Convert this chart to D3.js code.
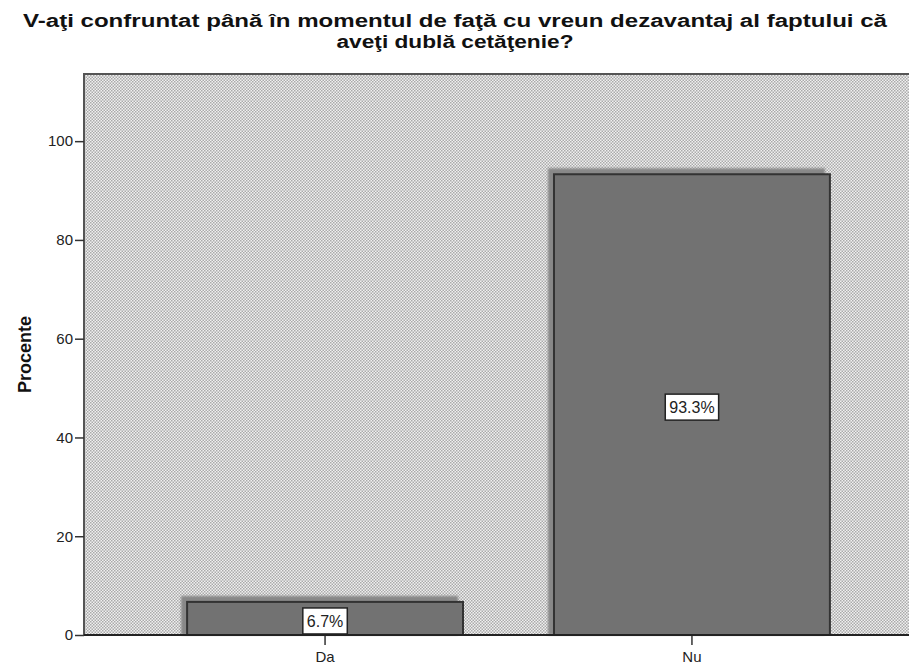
<!DOCTYPE html>
<html>
<head>
<meta charset="utf-8">
<script src="https://cdn.jsdelivr.net/npm/d3@7"></script>
<style>
  body { margin: 0; background: white; }
  svg { display: block; font-family: "Liberation Sans", Arial, sans-serif; }
</style>
</head>
<body>
<div id="chart"></div>
<script>
// data
const categories = ["Da", "Nu"];
const percents = [6.7, 93.3];
const yTicks = [0, 20, 40, 60, 80, 100];
const titleLines = ["V-aţi confruntat până în momentul de faţă cu vreun dezavantaj al faptului că", "aveţi dublă cetăţenie?"];

const width = 909, height = 666;
const plot = { left: 84, top: 74, right: 933, bottom: 635 };
const font = "Liberation Sans, Arial, sans-serif";

const svg = d3.select("#chart").append("svg")
    .attr("width", width).attr("height", height);

const defs = svg.append("defs");

// fine checker fill like the SPSS plot background
const pat = defs.append("pattern").attr("id", "dots")
    .attr("width", 3).attr("height", 3).attr("patternUnits", "userSpaceOnUse");
pat.append("rect").attr("width", 3).attr("height", 3).attr("fill", "#f0f0f0");
pat.append("rect").attr("width", 1.5).attr("height", 1.5).attr("fill", "#aaaaaa");
pat.append("rect").attr("x", 1.5).attr("y", 1.5).attr("width", 1.5).attr("height", 1.5).attr("fill", "#aaaaaa");

defs.append("filter").attr("id", "blur")
    .append("feGaussianBlur").attr("stdDeviation", 1);

const x = d3.scaleBand().domain(categories)
    .range([plot.left, plot.right]).paddingInner(0.248).paddingOuter(0.281);
const y = d3.scaleLinear().domain([0, 113.6]).range([plot.bottom, plot.top]);

// background
svg.append("rect")
    .attr("x", plot.left).attr("y", plot.top)
    .attr("width", plot.right - plot.left).attr("height", plot.bottom - plot.top)
    .attr("fill", "url(#dots)").attr("stroke", "#555").attr("stroke-width", 2);

const data = categories.map((c, i) => ({ cat: c, val: percents[i] }));

// drop shadows (offset up-left)
svg.append("g").selectAll("rect").data(data).enter().append("rect")
    .attr("x", d => x(d.cat) - 6).attr("y", d => y(d.val) - 6)
    .attr("width", x.bandwidth() + 1).attr("height", d => plot.bottom - y(d.val) + 6)
    .attr("fill", "#888").attr("filter", "url(#blur)");

// bars
svg.append("g").selectAll("rect").data(data).enter().append("rect")
    .attr("x", d => x(d.cat)).attr("y", d => y(d.val))
    .attr("width", x.bandwidth()).attr("height", d => plot.bottom - y(d.val))
    .attr("fill", "#727272").attr("stroke", "#333").attr("stroke-width", 2);

// y axis
const yAxis = svg.append("g").attr("transform", `translate(${plot.left},0)`)
    .call(d3.axisLeft(y).tickValues(yTicks).tickSize(9).tickPadding(2).tickFormat(d3.format("d")));
yAxis.select(".domain").remove();
yAxis.selectAll("line").attr("stroke", "#333").attr("stroke-width", 1.5);
yAxis.selectAll("text").attr("font-size", 15).attr("fill", "#222").attr("font-family", font);

// x axis
const xAxis = svg.append("g").attr("transform", `translate(0,${plot.bottom})`)
    .call(d3.axisBottom(x).tickSize(10).tickPadding(6));
xAxis.select(".domain").remove();
xAxis.selectAll("line").attr("stroke", "#333").attr("stroke-width", 1.5);
xAxis.selectAll("text").attr("font-size", 15).attr("fill", "#222").attr("font-family", font);

// bottom axis line
svg.append("line")
    .attr("x1", plot.left).attr("x2", width)
    .attr("y1", plot.bottom).attr("y2", plot.bottom)
    .attr("stroke", "#222").attr("stroke-width", 2);

// value labels
const lab = svg.append("g").selectAll("g").data(data).enter().append("g")
    .attr("transform", d => `translate(${x(d.cat) + x.bandwidth() / 2},${(y(d.val) + plot.bottom) / 2 + 2.5})`);
const box = lab.append("rect").attr("fill", "white").attr("stroke", "#222").attr("stroke-width", 1.5);
const txt = lab.append("text")
    .attr("text-anchor", "middle").attr("dy", "0.35em")
    .attr("font-size", 16).attr("fill", "#222")
    .text(d => d.val.toFixed(1) + "%");
txt.each(function(d, i) {
    const w = this.getComputedTextLength() + 8;
    d3.select(box.nodes()[i])
        .attr("x", -w / 2).attr("y", -13).attr("width", w).attr("height", 26);
});

// y title
svg.append("text")
    .attr("transform", `translate(31,${(plot.top + plot.bottom) / 2}) rotate(-90)`)
    .attr("text-anchor", "middle").attr("font-size", 18).attr("font-weight", "bold")
    .attr("fill", "#111").text("Procente");

// chart title
const titleWidths = [864, 237];
svg.append("g").selectAll("text").data(titleLines).enter().append("text")
    .attr("x", 455).attr("y", (d, i) => 27 + i * 21)
    .attr("text-anchor", "middle").attr("font-size", 18).attr("font-weight", "bold")
    .attr("textLength", (d, i) => titleWidths[i]).attr("lengthAdjust", "spacingAndGlyphs")
    .attr("fill", "#111").text(d => d);
</script>
</body>
</html>
